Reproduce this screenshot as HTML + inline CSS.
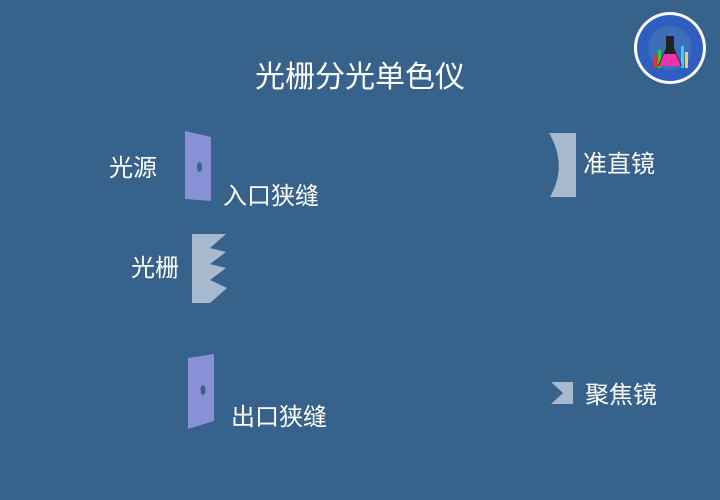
<!DOCTYPE html>
<html><head><meta charset="utf-8"><style>
html,body{margin:0;padding:0;background:#37628C;}
svg{display:block}
text{font-family:"Liberation Sans","Noto Sans CJK SC",sans-serif;fill:#fff;}
</style></head><body>
<svg width="720" height="500" viewBox="0 0 720 500" xmlns="http://www.w3.org/2000/svg">
<rect width="720" height="500" fill="#37628C"/>
<text x="360" y="87" font-size="30" text-anchor="middle">光栅分光单色仪</text>
<text x="109" y="176" font-size="24">光源</text>
<text x="223" y="204" font-size="24">入口狭缝</text>
<text x="131" y="276" font-size="24">光栅</text>
<text x="583" y="172" font-size="24">准直镜</text>
<text x="231" y="425" font-size="24">出口狭缝</text>
<text x="585" y="403" font-size="24">聚焦镜</text>
<polygon points="185,131 211,137 211,201 185,199" fill="#8891D6"/>
<ellipse cx="199.5" cy="167" rx="2.5" ry="5" fill="#37628C"/>
<polygon points="192,234 226,234 210,248 226,252 210,264 226,268 210,280 227,288 210,303 192,303" fill="#A6B9CF"/>
<polygon points="188,358 214,354 214,421 188,429" fill="#8891D6"/>
<ellipse cx="203" cy="390" rx="2.5" ry="5" fill="#37628C"/>
<path d="M549,133 L576,133 L576,197 L550,197 Q568,165 549,133 Z" fill="#A6B9CF"/>
<polygon points="551,382 573,382 573,404 551,404 563,393" fill="#A6B9CF"/>
<circle cx="670" cy="48" r="36" fill="#fff"/>
<circle cx="670" cy="48" r="33" fill="#2E5FC0"/>
<circle cx="670" cy="48" r="22" fill="#3C6FB8"/>
<rect x="654" y="56" width="3" height="12" fill="#e33"/>
<rect x="658" y="50" width="3" height="18" fill="#3c3"/>
<rect x="681" y="46" width="3" height="22" fill="#3cf"/>
<rect x="685" y="52" width="3" height="16" fill="#fc3"/>
<polygon points="666,36 674,36 674,48 682,66 658,66 666,48" fill="#222" />
<polygon points="664,54 676,54 681,66 659,66" fill="#e3a"/>
</svg>
</body></html>
